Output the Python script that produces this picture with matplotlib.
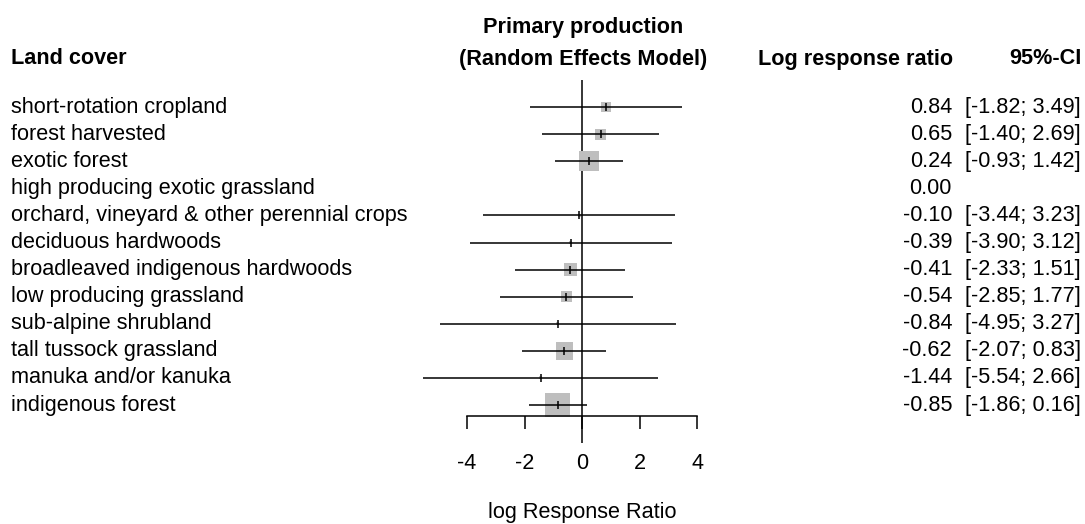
import matplotlib

matplotlib.use("Agg")

import matplotlib.pyplot as plt
import numpy as np
from matplotlib.transforms import blended_transform_factory

plt.rcParams["font.family"] = ["Liberation Sans", "DejaVu Sans"]

land_cover = [
    "short-rotation cropland",
    "forest harvested",
    "exotic forest",
    "high producing exotic grassland",
    "orchard, vineyard & other perennial crops",
    "deciduous hardwoods",
    "broadleaved indigenous hardwoods",
    "low producing grassland",
    "sub-alpine shrubland",
    "tall tussock grassland",
    "manuka and/or kanuka",
    "indigenous forest",
]
log_rr = [0.84, 0.65, 0.24, 0.00, -0.10, -0.39, -0.41, -0.54, -0.84, -0.62, -1.44, -0.85]
ci_lower = [-1.82, -1.40, -0.93, np.nan, -3.44, -3.90, -2.33, -2.85, -4.95, -2.07, -5.54, -1.86]
ci_upper = [3.49, 2.69, 1.42, np.nan, 3.23, 3.12, 1.51, 1.77, 3.27, 0.83, 2.66, 0.16]
# random-effects weights (%), drive the square sizes
weight = [8.5, 9.3, 16.9, 0.0, 2.5, 2.5, 11.0, 9.3, 2.5, 14.4, 2.5, 20.3]
x_ticks = [-4, -2, 0, 2, 4]

W, H = 1085, 524
FS = 15.6
LW = 1.1

est = np.asarray(log_rr, dtype=float)
lo = np.asarray(ci_lower, dtype=float)
hi = np.asarray(ci_upper, dtype=float)
w = np.asarray(weight, dtype=float)
rows = np.arange(1, len(land_cover) + 1)
has_ci = np.isfinite(lo) & np.isfinite(hi)

fig = plt.figure(figsize=(W / 100, H / 100), dpi=100)
ax = fig.add_axes([467 / W, 1 - 443 / H, 230 / W, 363 / H])
ax.set_xlim(-4, 4)
ax.set_ylim(13.4, 0)

# line of no effect
ax.axvline(0, color="black", linewidth=LW, zorder=1)

box_px = w[has_ci] * 1.2
ax.scatter(est[has_ci], rows[has_ci], s=(box_px * 0.72) ** 2, marker="s",
           color="#bebebe", linewidths=0, zorder=2, clip_on=False)
ax.hlines(rows[has_ci], lo[has_ci], hi[has_ci], color="black",
          linewidth=LW, zorder=3, clip_on=False)
ax.scatter(est[has_ci], rows[has_ci], s=(8 * 0.72) ** 2, marker="|",
           color="black", linewidths=LW, zorder=4, clip_on=False)

for side in ("left", "right", "top"):
    ax.spines[side].set_visible(False)
ax.spines["bottom"].set_position(("data", 12.41))
ax.spines["bottom"].set_bounds(-4, 4)
ax.spines["bottom"].set_linewidth(LW)
ax.set_yticks([])
ax.set_xticks(x_ticks)
ax.set_xticklabels([str(t) for t in x_ticks])
ax.tick_params(axis="x", direction="out", length=9, width=LW, labelsize=FS, pad=17.5)
ax.set_xlabel("log Response Ratio", fontsize=FS, labelpad=20)
ax.patch.set_visible(False)

# text columns: x in figure fraction, y on the row scale
row_tf = blended_transform_factory(fig.transFigure, ax.transData)
for r, name, e, l, h, ok in zip(rows, land_cover, est, lo, hi, has_ci):
    ax.text(11 / W, r, name, transform=row_tf, ha="left", va="center",
            fontsize=FS, clip_on=False)
    ax.text(952 / W, r, f"{e:.2f}", transform=row_tf, ha="right", va="center",
            fontsize=FS, clip_on=False)
    if ok:
        ax.text(1081 / W, r, f"[{l:.2f}; {h:.2f}]", transform=row_tf, ha="right",
                va="center", fontsize=FS, clip_on=False)

head_y = 1 - 59 / H
fig.text(11 / W, head_y, "Land cover", ha="left", va="center", fontsize=FS, fontweight="bold")
fig.text(583 / W, 1 - 28 / H, "Primary production", ha="center", va="center",
         fontsize=FS, fontweight="bold")
fig.text(583 / W, head_y, "(Random Effects Model)", ha="center", va="center",
         fontsize=FS, fontweight="bold")
fig.text(953 / W, head_y, "Log response ratio", ha="right", va="center",
         fontsize=FS, fontweight="bold")
fig.text(1082 / W, head_y, "95%-CI", ha="right", va="center", fontsize=FS, fontweight="bold")

fig.savefig("out.png", dpi=100, facecolor="white")
plt.close(fig)
